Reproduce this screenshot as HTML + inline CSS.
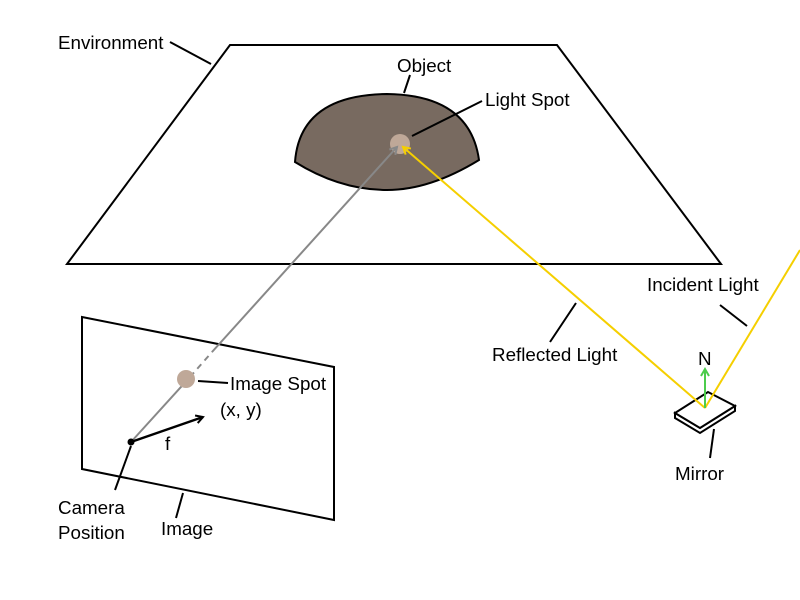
<!DOCTYPE html>
<html><head><style>body{margin:0;background:#fff}svg{display:block}text{font-family:"Liberation Sans",sans-serif;font-size:18.8px;fill:#000}</style></head>
<body>
<svg width="800" height="600" viewBox="0 0 800 600">
<defs>
<marker id="ab" markerWidth="10" markerHeight="10" refX="8" refY="5" orient="auto" markerUnits="userSpaceOnUse"><path d="M1,1 L8,5 L1,9" fill="none" stroke="#000" stroke-width="2"/></marker>
<marker id="ay" markerWidth="10" markerHeight="10" refX="8" refY="5" orient="auto" markerUnits="userSpaceOnUse"><path d="M1,1 L8,5 L1,9" fill="none" stroke="#f5cf00" stroke-width="2"/></marker>
<marker id="ag" markerWidth="10" markerHeight="10" refX="8" refY="5" orient="auto" markerUnits="userSpaceOnUse"><path d="M1,1 L8,5 L1,9" fill="none" stroke="#888" stroke-width="2"/></marker>
<marker id="agr" markerWidth="10" markerHeight="10" refX="8" refY="5" orient="auto" markerUnits="userSpaceOnUse"><path d="M1,1 L8,5 L1,9" fill="none" stroke="#4ccc4c" stroke-width="2"/></marker>
</defs>
<polygon points="230,45 557,45 721,264 67,264" fill="none" stroke="#000" stroke-width="2"/>
<path d="M295,162 Q300,95 387,94 Q470,95 479,160 Q430,190 387,190 Q340,190 295,162 Z" fill="#786a60" stroke="#000" stroke-width="2"/>
<circle cx="400" cy="144" r="10" fill="#bfa898"/>
<polygon points="82,317 334,367 334,520 82,469" fill="none" stroke="#000" stroke-width="2"/>
<line x1="131" y1="442" x2="190" y2="377" stroke="#888" stroke-width="2"/>
<line x1="190" y1="377" x2="212" y2="352" stroke="#888" stroke-width="2" stroke-dasharray="6,5"/>
<line x1="212" y1="352" x2="397" y2="147" stroke="#888" stroke-width="2" marker-end="url(#ag)"/>
<circle cx="186" cy="379" r="9" fill="#bfa898"/>
<circle cx="131" cy="442" r="3.5" fill="#000"/>
<line x1="131" y1="442" x2="203" y2="417" stroke="#000" stroke-width="2.5" marker-end="url(#ab)"/>
<polygon points="675,418 700,433 735,411 735,406 700,428 675,413" fill="#fff" stroke="#000" stroke-width="2"/>
<polygon points="675,413 708,392 735,406 700,428" fill="#fff" stroke="#000" stroke-width="2"/>
<line x1="800" y1="250" x2="705" y2="408" stroke="#f5cf00" stroke-width="2"/>
<line x1="705" y1="408" x2="403" y2="147" stroke="#f5cf00" stroke-width="2" marker-end="url(#ay)"/>
<line x1="705" y1="408" x2="705" y2="369" stroke="#4ccc4c" stroke-width="2" marker-end="url(#agr)"/>
<g stroke="#000" stroke-width="2">
<line x1="170" y1="42" x2="211" y2="64"/>
<line x1="410" y1="75" x2="404" y2="93"/>
<line x1="482" y1="101" x2="412" y2="136"/>
<line x1="720" y1="305" x2="747" y2="326"/>
<line x1="576" y1="303" x2="550" y2="342"/>
<line x1="198" y1="381" x2="228" y2="383"/>
<line x1="131" y1="446" x2="115" y2="490"/>
<line x1="183" y1="493" x2="176" y2="518"/>
<line x1="714" y1="429" x2="710" y2="458"/>
</g>
<text x="58" y="49">Environment</text>
<text x="397" y="72">Object</text>
<text x="485" y="106">Light Spot</text>
<text x="647" y="291">Incident Light</text>
<text x="492" y="361">Reflected Light</text>
<text x="698" y="365">N</text>
<text x="230" y="390">Image Spot</text>
<text x="220" y="416">(x, y)</text>
<text x="165" y="450">f</text>
<text x="675" y="480">Mirror</text>
<text x="58" y="514">Camera</text>
<text x="58" y="539">Position</text>
<text x="161" y="535">Image</text>
</svg>
</body></html>
